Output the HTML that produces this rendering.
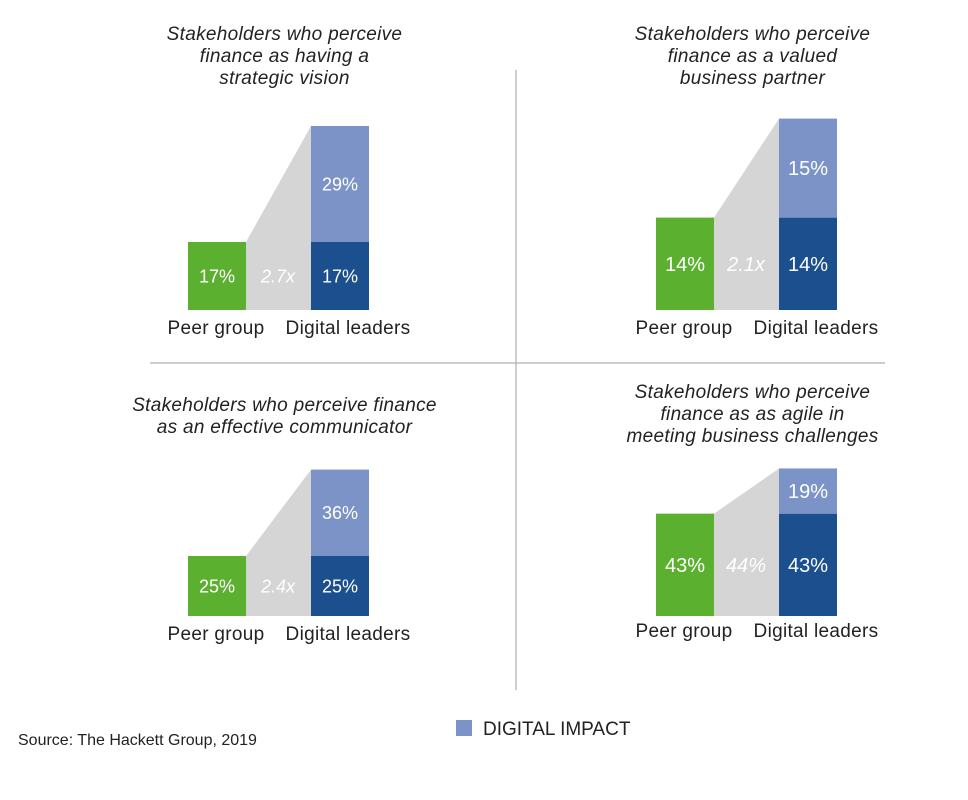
<!DOCTYPE html>
<html><head><meta charset="utf-8"><style>
body{margin:0;background:#fff;width:968px;height:795px;overflow:hidden}
svg{font-family:"Liberation Sans",sans-serif}
</style></head><body>
<svg id="c" width="968" height="795" viewBox="0 0 968 795">
<line x1="516" y1="70" x2="516" y2="690" stroke="#b0b0b0" stroke-width="1.2"/>
<line x1="150" y1="363" x2="885" y2="363" stroke="#b0b0b0" stroke-width="1.2"/>
<text x="18" y="745" font-size="16" fill="#222">Source: The Hackett Group, 2019</text>
<rect x="456" y="720" width="16" height="16" fill="#7b93c7"/>
<text x="483" y="735" font-size="19" fill="#222">DIGITAL IMPACT</text>
</svg>
<script>
const peerValues=[17,14,25,43];
const digitalBase=[17,14,25,43];
const digitalImpact=[29,15,36,19];
const multiplierLabels=["2.7x","2.1x","2.4x","44%"];
const titles=[
 ["Stakeholders who perceive","finance as having a","strategic vision"],
 ["Stakeholders who perceive","finance as a valued","business partner"],
 ["Stakeholders who perceive finance","as an effective communicator"],
 ["Stakeholders who perceive","finance as as agile in","meeting business challenges"]];
// layout (not data)
const panelX=[188,656,188,656];
const baseY=[310,310,616,616];
const scale=[4,6.6,2.4,2.38];
const titleY=[40,40,411,398];
const labelY=[334,334,640,637];
const valSize=[18,20,18,20];
const svg=document.getElementById('c');
const NS='http://www.w3.org/2000/svg';
function mk(tag,attrs){const e=document.createElementNS(NS,tag);for(const k in attrs)e.setAttribute(k,attrs[k]);svg.appendChild(e);return e;}
for(let i=0;i<4;i++){
 const x0=panelX[i],by=baseY[i],s=scale[i];
 const yv=v=>by-v*s;
 const gx=x0+58, dx=x0+123, w=58;
 const pTop=yv(peerValues[i]), dTop=yv(digitalBase[i]), iTop=yv(digitalBase[i]+digitalImpact[i]);
 const cx=(x0+dx+w)/2+6;
 titles[i].forEach((t,j)=>{const e=mk('text',{x:cx,y:titleY[i]+j*22,'font-size':19,'font-style':'italic','text-anchor':'middle',fill:'#222','letter-spacing':'0.3'});e.textContent=t;
  
  });
 const g=mk('polygon',{points:`${gx},${by} ${gx},${pTop} ${dx},${iTop} ${dx},${by}`,fill:'#d5d5d5'});
 
 
 const p=mk('rect',{x:x0,y:pTop,width:w,height:by-pTop,fill:'#5cb030'});
 
 
 const d=mk('rect',{x:dx,y:dTop,width:w,height:by-dTop,fill:'#1b4f8e'});
 
 
 const im=mk('rect',{x:dx,y:iTop,width:w,height:dTop-iTop,fill:'#7b93c7'});
 
 
 const fs=valSize[i];
 const lab=(x,y,t,n,it)=>{const e=mk('text',{x:x,y:y,'font-size':fs,'text-anchor':'middle',fill:'#fff','font-style':it?'italic':'normal'});e.textContent=t;
  
  };
 const midP=(pTop+by)/2+fs*0.35;
 lab(x0+w/2,midP,peerValues[i]+'%','peer-value');
 lab(gx+32,midP,multiplierLabels[i],'multiplier-label',true);
 lab(dx+w/2,(dTop+by)/2+fs*0.35,digitalBase[i]+'%','digital-base-value');
 lab(dx+w/2,(iTop+dTop)/2+fs*0.35,digitalImpact[i]+'%','digital-impact-value');
 const a=mk('text',{x:x0+w/2-1,y:labelY[i],'font-size':19,'text-anchor':'middle',fill:'#222','letter-spacing':'0.3'});a.textContent='Peer group';
 
 
 const b=mk('text',{x:dx+w/2+8,y:labelY[i],'font-size':19,'text-anchor':'middle',fill:'#222','letter-spacing':'0.3'});b.textContent='Digital leaders';
 
 
}
</script>
</body></html>
